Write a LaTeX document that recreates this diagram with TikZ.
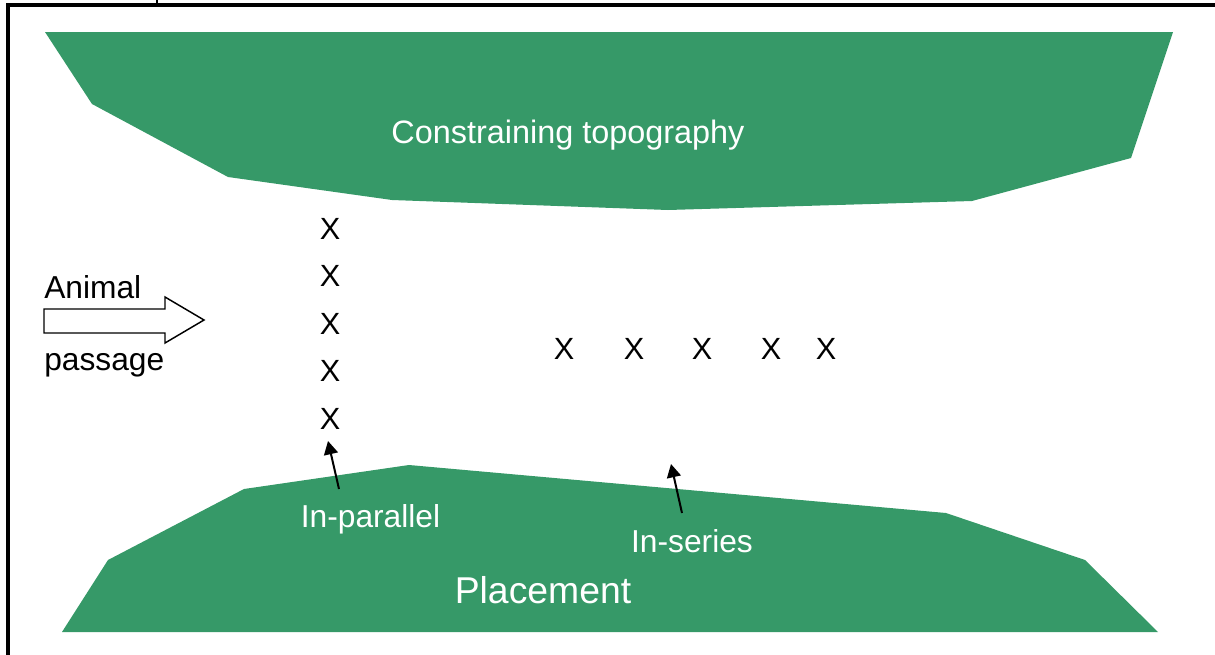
\documentclass[tikz,border=0pt]{standalone}
\usepackage{fontspec}
\setmainfont{Liberation Sans}
\usetikzlibrary{arrows.meta}
\definecolor{terrain}{RGB}{54,153,104}

\tikzset{
  land/.style={fill=terrain, draw=none},
  lbl/.style={inner sep=0pt, font=\fontsize{23.8}{28}\selectfont},
  onland/.style={lbl, text=white},
  xmark/.style={inner sep=0pt, font=\fontsize{23}{27}\selectfont},
  pointer/.style={line width=1.5pt, -{Triangle[length=10pt,width=10.5pt]}},
  frameline/.style={line width=2.3pt, line cap=rect}
}

\begin{document}
\begin{tikzpicture}[x=0.75pt, y=-0.75pt]
  \useasboundingbox (0,0) rectangle (1215,654);

  % frame
  \draw[frameline] (8,654) -- (8,5) -- (1216,5);
  \draw[line width=1.2pt] (157,0) -- (157,5);

  % constraining topography (upper landform)
  \fill[land] (45,32) -- (1173,32) -- (1131,158) -- (972,201) -- (668,210)
    -- (392,200) -- (228,177) -- (92,104) -- cycle;
  \node[onland, anchor=base, font=\fontsize{24.3}{29}\selectfont] (topo) at (568,143) {Constraining topography};

  % lower landform
  \fill[land] (62,632) -- (108,560) -- (244,489) -- (409,465) -- (946,513)
    -- (1085,560) -- (1158,632) -- cycle;
  \node[onland, anchor=base, font=\fontsize{28}{33}\selectfont] (place) at (543,603) {Placement};

  % animal passage arrow
  \draw[line width=1.1pt, fill=white] (44,309) -- (165,309) -- (165,297) -- (204,320)
    -- (165,343) -- (165,333) -- (44,333) -- cycle;
  \node[lbl, anchor=base west] (animal) at (44,298) {Animal};
  \node[lbl, anchor=base west] (passage) at (44,370) {passage};

  % in-parallel placement
  \foreach \i/\y in {1/229, 2/276, 3/324, 4/371, 5/419}
    \node[xmark] (p\i) at (330,\y) {X};

  % in-series placement
  \foreach \i/\x in {1/564, 2/634, 3/702, 4/771, 5/826}
    \node[xmark] (s\i) at (\x,349) {X};

  % labels with pointers
  \node[onland, anchor=base] (par) at (370.5,527) {In-parallel};
  \node[onland, anchor=base] (ser) at (692,552) {In-series};
  \coordinate (partail) at (339,489);
  \coordinate (partip) at (328,441);
  \coordinate (sertail) at (682,513);
  \coordinate (sertip) at (671,464);
  \draw[pointer] (partail) -- (partip);
  \draw[pointer] (sertail) -- (sertip);
\end{tikzpicture}
\end{document}
